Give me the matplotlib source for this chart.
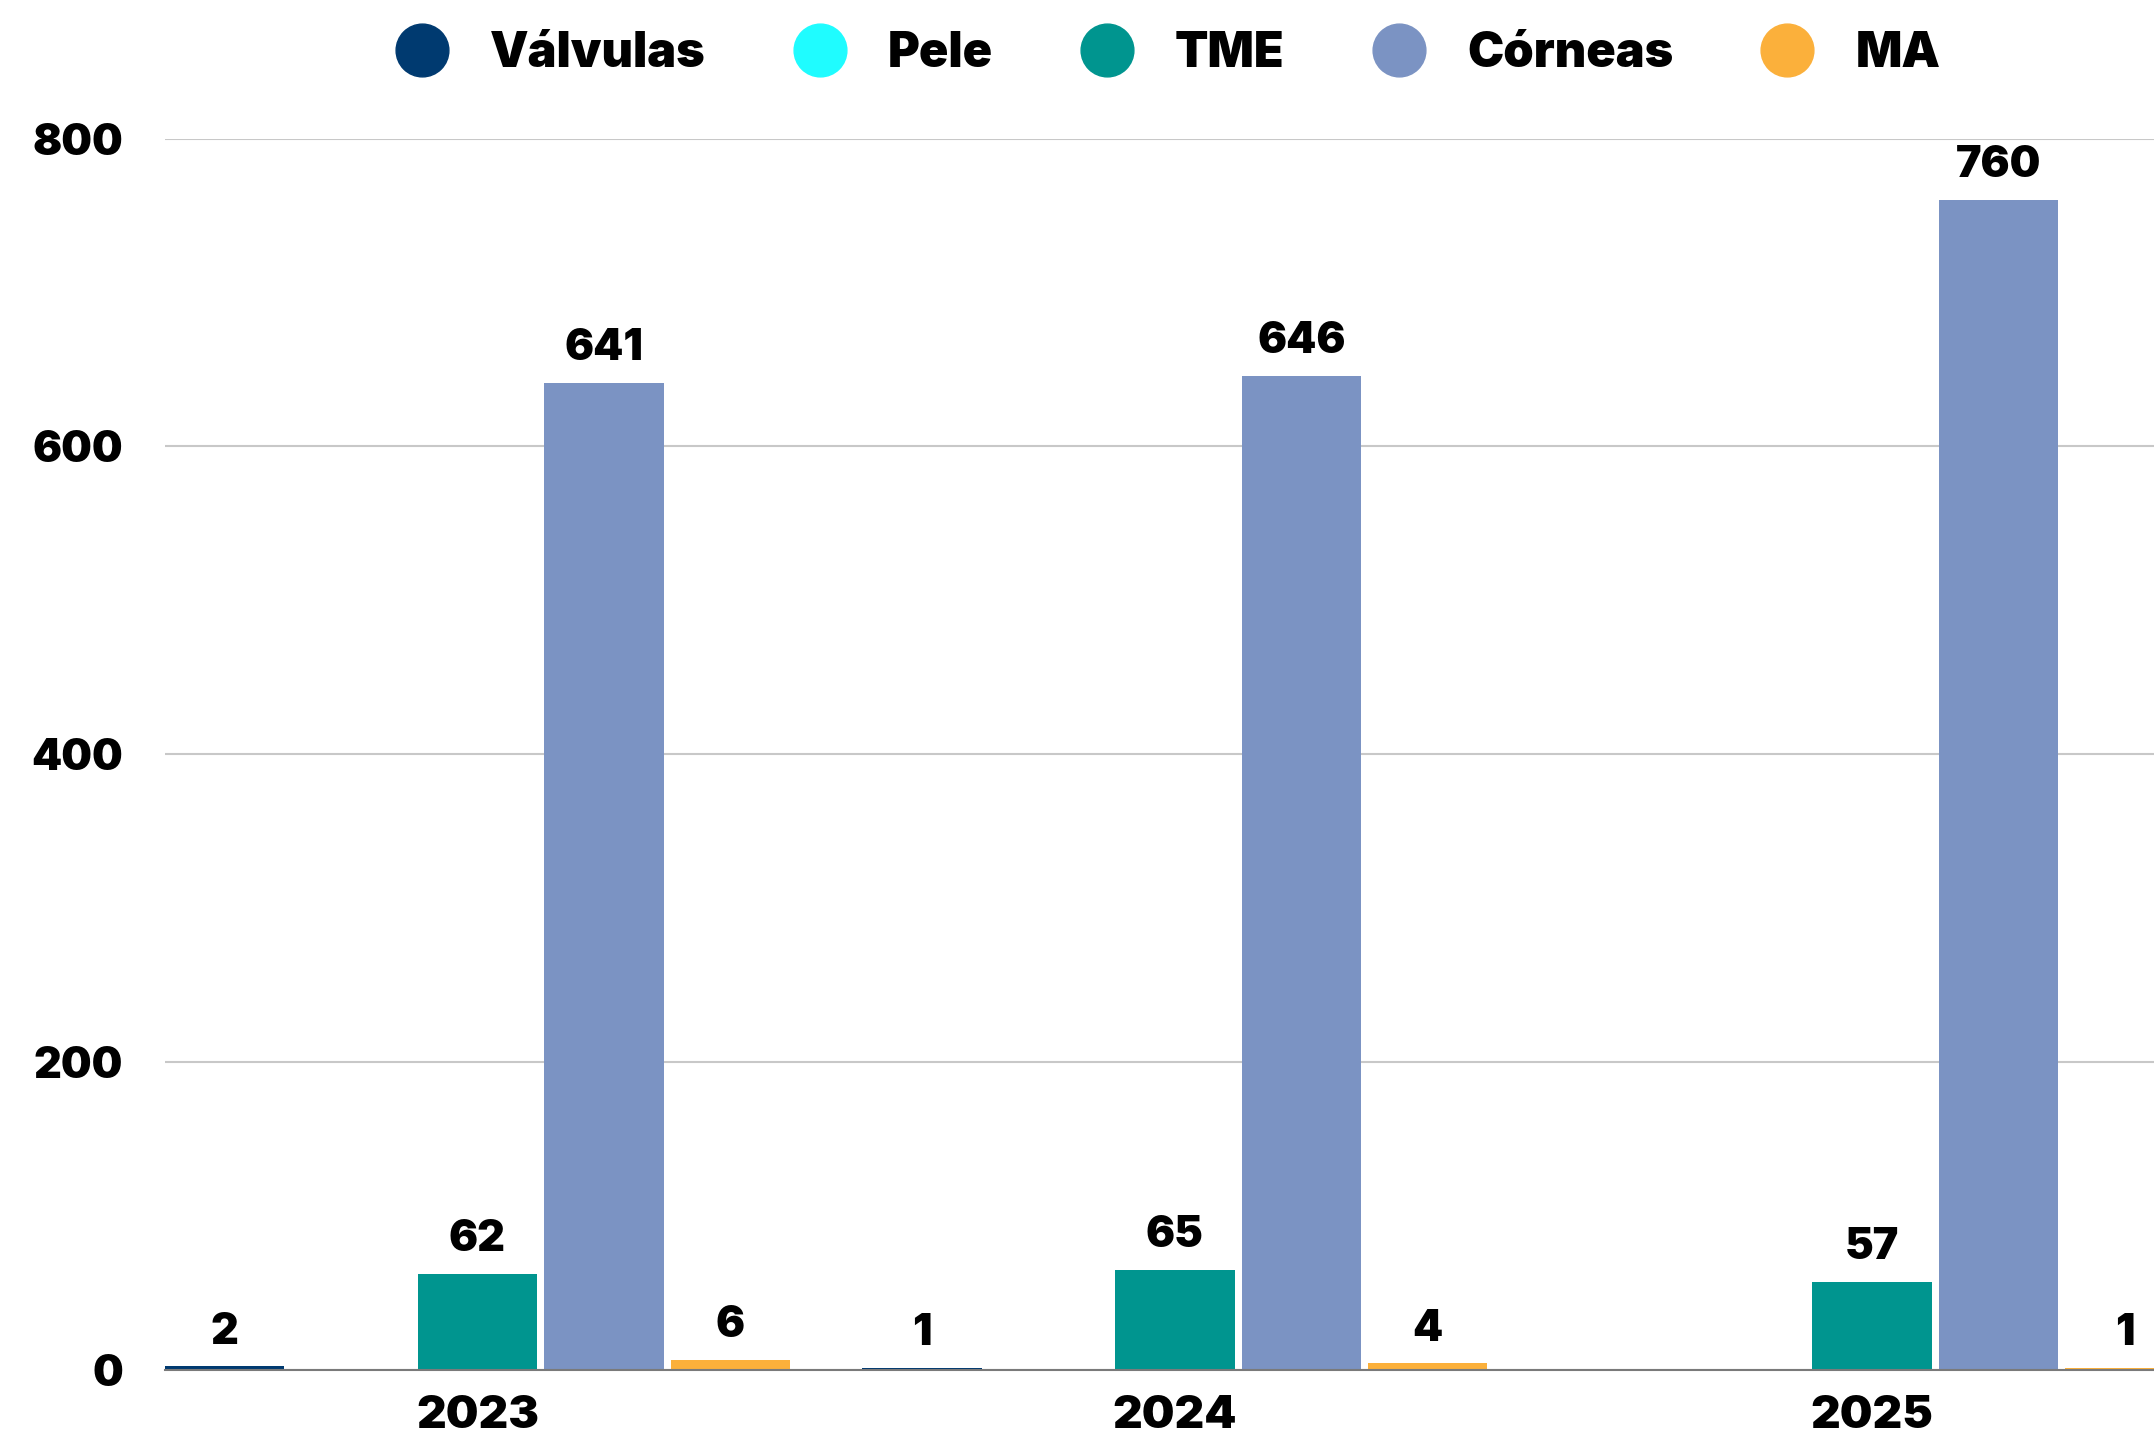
import matplotlib
matplotlib.use("Agg")
import matplotlib.pyplot as plt
from matplotlib.lines import Line2D
import numpy as np

plt.rcParams['font.family'] = ['Inter', 'DejaVu Sans']
plt.rcParams['font.weight'] = 'black'

years = ['2023', '2024', '2025']
series = ['Válvulas', 'Pele', 'TME', 'Córneas', 'MA']
valvulas = [2, 1, 0]
pele = [0, 0, 0]
tme = [62, 65, 57]
corneas = [641, 646, 760]
ma = [6, 4, 1]
colors = ['#003a70', '#1ffcff', '#00958f', '#7b93c3', '#fbb03b']

fig = plt.figure(figsize=(21.54, 14.43), dpi=100)
ax = fig.add_axes([0.0766, 0.0509, 0.9234, 0.853])

x = np.arange(len(years))
step = 0.1813
width = 0.1714
for i, (name, vals, c) in enumerate(zip(series, [valvulas, pele, tme, corneas, ma], colors)):
    offs = (i - 2) * step
    bars = ax.bar(x + offs, vals, width, color=c, zorder=3)
    labels = [str(v) if v else '' for v in vals]
    ax.bar_label(bars, labels=labels, padding=10, fontsize=31, fontweight='black')

ax.set_xlim(-0.448, 2.404)
ax.set_ylim(0, 800)
ax.set_yticks([0, 200, 400, 600, 800])
ax.set_xticks(x)
ax.set_xticklabels(years)
ax.tick_params(axis='both', length=0, labelsize=31)
ax.tick_params(axis='y', pad=30)
ax.tick_params(axis='x', pad=18, labelsize=33)
ax.grid(axis='y', color='#c8c8c8', linewidth=1.5, zorder=0)
for s in ['top', 'right', 'left']:
    ax.spines[s].set_visible(False)
ax.spines['bottom'].set_color('#7a7a7a')
ax.spines['bottom'].set_linewidth(1.5)
ax.spines['bottom'].set_zorder(4)

handles = [Line2D([], [], marker='o', linestyle='', markersize=38,
                  markerfacecolor=c, markeredgecolor=c) for c in colors]
fig.legend(handles, series, loc='upper center', bbox_to_anchor=(0.537, 1.009),
           ncol=5, frameon=False, fontsize=35, handletextpad=0.4,
           columnspacing=1.35)

fig.savefig('out.png', dpi=100)
